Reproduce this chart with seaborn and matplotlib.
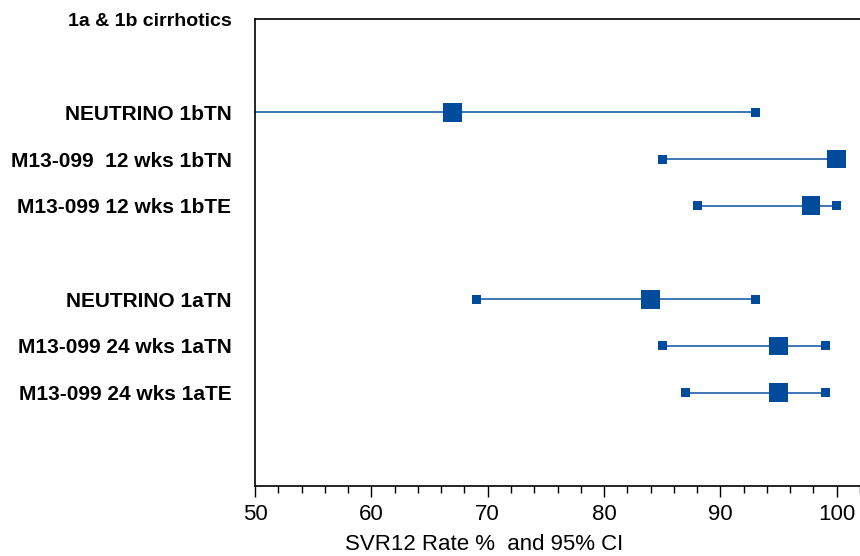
import matplotlib
matplotlib.use("Agg")
import matplotlib.pyplot as plt
from matplotlib.ticker import MultipleLocator
import seaborn as sns
import pandas as pd

# Study arms, SVR12 point estimates and 95% confidence bounds
studies = [
    "NEUTRINO 1bTN",
    "M13-099  12 wks 1bTN",
    "M13-099 12 wks 1bTE",
    "NEUTRINO 1aTN",
    "M13-099 24 wks 1aTN",
    "M13-099 24 wks 1aTE",
]
svr12 = [67.0, 100.0, 97.8, 84.0, 95.0, 95.0]
ci_low = [35.0, 85.0, 88.0, 69.0, 85.0, 87.0]
ci_high = [93.0, 100.0, 100.0, 93.0, 99.0, 99.0]
rows = [2, 3, 4, 6, 7, 8]
header = "1a & 1b cirrhotics"
x_ticks = [50, 60, 70, 80, 90, 100]

df = pd.DataFrame({"study": studies, "svr": svr12, "lo": ci_low,
                   "hi": ci_high, "row": rows})
bounds = pd.concat([
    df[["row", "lo"]].rename(columns={"lo": "x"}),
    df[["row", "hi"]].rename(columns={"hi": "x"}),
])

sns.set_style("white")
plt.rcParams["font.family"] = ["Liberation Sans", "DejaVu Sans"]
plt.rcParams["text.color"] = "black"
plt.rcParams["xtick.color"] = "black"
plt.rcParams["ytick.color"] = "black"

blue = "#004B9B"
fig = plt.figure(figsize=(8.6, 5.56), dpi=100)
ax = fig.add_axes([255 / 860, 1 - 486 / 556, 1 - 255 / 860, (486 - 19) / 556])

# confidence interval whiskers
ax.hlines(df["row"], df["lo"], df["hi"], color="#1F5FAA", lw=1.2, zorder=1)
# bound markers
sns.scatterplot(data=bounds, x="x", y="row", marker="s", s=42, color=blue,
                edgecolor="none", ax=ax, zorder=2)
# point estimates
sns.scatterplot(data=df, x="svr", y="row", marker="s", s=180, color=blue,
                edgecolor="none", ax=ax, zorder=3)

ax.set_xlim(50, 102)
ax.set_ylim(10, 0)
ax.set_yticks([0] + rows)
ax.set_yticklabels([header] + studies, fontsize=15, fontweight="bold")
ax.get_yticklabels()[0].set_fontsize(14)
ax.tick_params(axis="y", length=0, pad=17)

ax.xaxis.set_major_locator(MultipleLocator(10))
ax.xaxis.set_minor_locator(MultipleLocator(2))
ax.set_xticks(x_ticks)
ax.tick_params(axis="x", which="major", direction="out", length=8, width=1,
               labelsize=16, pad=5, bottom=True)
ax.tick_params(axis="x", which="minor", direction="out", length=5, width=1,
               bottom=True)
ax.set_xlabel("")
ax.set_ylabel("")
fig.text(484 / 860, 1 - 545 / 556, "SVR12 Rate %  and 95% CI", fontsize=16,
         ha="center", va="center")

for side in ["left", "bottom", "top"]:
    ax.spines[side].set_visible(True)
    ax.spines[side].set_color("black")
    ax.spines[side].set_linewidth(1.2)
ax.spines["right"].set_visible(False)

fig.savefig("out.png", dpi=100)
